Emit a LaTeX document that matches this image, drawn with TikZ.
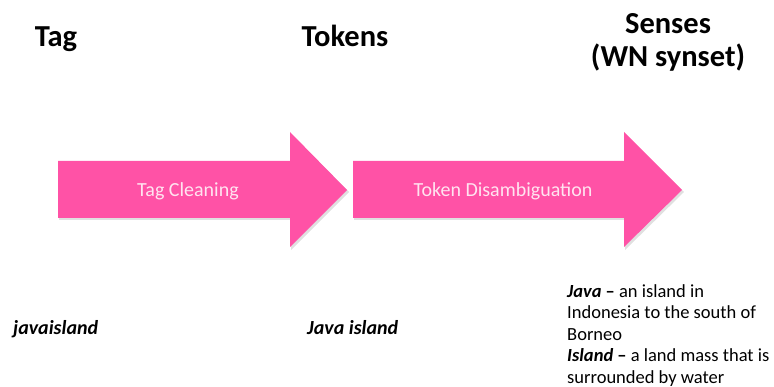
\documentclass[tikz,border=0pt]{standalone}
\usepackage{fontspec}
\setmainfont{Carlito}
\usetikzlibrary{calc}
\definecolor{flowpink}{RGB}{255,82,166}
\definecolor{labelpink}{RGB}{255,228,240}
\tikzset{
  x=1pt, y=-1pt,
  flowarrow/.style={fill=flowpink, draw=none},
  arrowshadow/.style={fill=black, opacity=0.12, draw=none},
  heading/.style={font=\fontsize{30.5}{34}\selectfont\bfseries, inner sep=0pt},
  steplabel/.style={font=\fontsize{20}{24}\selectfont, text=labelpink, inner sep=0pt},
  example/.style={font=\fontsize{20}{24}\selectfont\bfseries\itshape, inner sep=0pt, anchor=base west},
  gloss/.style={font=\fontsize{18.5}{21.5}\selectfont, inner sep=0pt, anchor=north west, align=left},
}
\begin{document}
\begin{tikzpicture}
\useasboundingbox (0,0) rectangle (774,387);

% column headings
\node[heading, anchor=base] (tag) at (56,47) {Tag};
\node[heading, anchor=base] (tokens) at (345,47) {Tokens};
\node[heading, anchor=base] (senses) at (668,34) {Senses};
\node[heading, anchor=base] (synset) at (668,67) {(WN synset)};

% block arrows (soft shadow first)
\fill[arrowshadow] (59,163) -- (291,163) -- (291,134) -- (349,192) -- (291,250) -- (291,220) -- (59,220) -- cycle;
\fill[flowarrow] (58,161) -- (290,161) -- (290,132) -- (347,190) -- (290,247) -- (290,218) -- (58,218) -- cycle;
\fill[arrowshadow] (354,163) -- (625,163) -- (625,134) -- (684,192) -- (625,250) -- (625,220) -- (354,220) -- cycle;
\fill[flowarrow] (353,161) -- (624,161) -- (624,132) -- (682,190) -- (624,247) -- (624,218) -- (353,218) -- cycle;

\node[steplabel] (clean) at (188,191) {Tag Cleaning};
\node[steplabel] (disamb) at (503,191) {Token Disambiguation};

% examples
\node[example] (raw) at (13,335) {javaisland};
\node[example] (split) at (307,335) {Java island};
\node[gloss] (defs) at (567,284) {\textbf{\textit{Java} –} an island in\\
Indonesia to the south of\\
Borneo\\
\textbf{\textit{Island} –} a land mass that is\\
surrounded by water};
\end{tikzpicture}
\end{document}
